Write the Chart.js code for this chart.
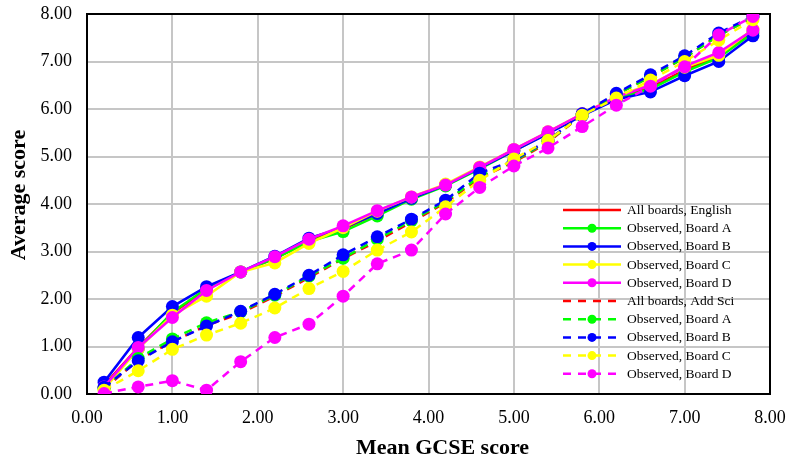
<!DOCTYPE html>
<html>
<head>
<meta charset="utf-8">
<script src="https://cdn.jsdelivr.net/npm/chart.js@4.4.1/dist/chart.umd.min.js"></script>
<style>
  html, body { margin: 0; padding: 0; background: #fff; }
  #wrap { width: 787px; height: 461px; }
</style>
</head>
<body>
<div id="wrap"><canvas id="gcseChart"></canvas></div>
<script>
// Mean GCSE score bands (x values)
const gcseScores = [0.2, 0.6, 1.0, 1.4, 1.8, 2.2, 2.6, 3.0, 3.4, 3.8, 4.2, 4.6, 5.0, 5.4, 5.8, 6.2, 6.6, 7.0, 7.4, 7.8];

// English (solid lines)
const engAll = [0.18, 0.98, 1.70, 2.20, 2.57, 2.85, 3.22, 3.47, 3.80, 4.12, 4.40, 4.76, 5.13, 5.50, 5.88, 6.24, 6.45, 6.82, 7.12, 7.63];
const engA   = [0.15, 0.95, 1.72, 2.22, 2.57, 2.85, 3.21, 3.42, 3.75, 4.10, 4.38, 4.74, 5.12, 5.49, 5.87, 6.22, 6.42, 6.78, 7.08, 7.60];
const engB   = [0.25, 1.19, 1.84, 2.26, 2.57, 2.90, 3.28, 3.50, 3.80, 4.12, 4.40, 4.76, 5.12, 5.48, 5.86, 6.20, 6.36, 6.70, 7.00, 7.54];
const engC   = [0.10, 0.95, 1.66, 2.06, 2.57, 2.76, 3.17, 3.50, 3.85, 4.15, 4.42, 4.78, 5.15, 5.52, 5.90, 6.26, 6.52, 6.88, 7.13, 7.68];
const engD   = [0.15, 0.98, 1.61, 2.18, 2.57, 2.89, 3.26, 3.54, 3.86, 4.15, 4.40, 4.77, 5.15, 5.52, 5.90, 6.25, 6.50, 6.90, 7.19, 7.66];

// Additional Science (dashed lines)
const sciAll = [0.10, 0.72, 1.10, 1.44, 1.70, 2.06, 2.45, 2.85, 3.22, 3.62, 4.03, 4.55, 4.88, 5.30, 5.88, 6.30, 6.68, 7.08, 7.55, 7.93];
const sciA   = [0.12, 0.75, 1.16, 1.50, 1.73, 2.08, 2.48, 2.86, 3.26, 3.65, 4.05, 4.58, 4.90, 5.32, 5.88, 6.30, 6.68, 7.08, 7.55, 7.93];
const sciB   = [0.14, 0.70, 1.10, 1.43, 1.74, 2.10, 2.50, 2.93, 3.31, 3.68, 4.08, 4.65, 4.92, 5.34, 5.90, 6.33, 6.72, 7.12, 7.60, 7.95];
const sciC   = [0.08, 0.49, 0.94, 1.24, 1.49, 1.81, 2.22, 2.58, 3.03, 3.41, 3.94, 4.50, 4.95, 5.34, 5.87, 6.23, 6.61, 7.00, 7.45, 7.88];
const sciD   = [0.01, 0.15, 0.28, 0.08, 0.68, 1.19, 1.47, 2.06, 2.74, 3.03, 3.79, 4.35, 4.80, 5.18, 5.63, 6.08, 6.48, 6.89, 7.56, 7.95];

const axisTicks = [0, 1, 2, 3, 4, 5, 6, 7, 8];
const xTitle = 'Mean GCSE score';
const yTitle = 'Average score';

const RED = '#ff0000', GREEN = '#00ff00', BLUE = '#0000ff', YELLOW = '#ffff00', MAGENTA = '#ff00ff';
const FONT = '"Liberation Serif", "Times New Roman", serif';

function toPoints(values) {
    return gcseScores.map((x, i) => ({ x: x, y: values[i] }));
}

function series(label, values, color, dashed, markers) {
    return {
        label: label,
        data: toPoints(values),
        borderColor: color,
        backgroundColor: color,
        borderWidth: 2.5,
        borderDash: dashed ? [8, 6] : [],
        pointRadius: markers ? 6.5 : 0,
        pointHoverRadius: markers ? 6.5 : 0,
        pointBorderWidth: 0,
        pointBackgroundColor: color,
        tension: 0,
        fill: false
    };
}

const datasets = [
    series('All boards, English', engAll, RED, false, false),
    series('Observed, Board A', engA, GREEN, false, true),
    series('Observed, Board B', engB, BLUE, false, true),
    series('Observed, Board C', engC, YELLOW, false, true),
    series('Observed, Board D', engD, MAGENTA, false, true),
    series('All boards, Add Sci', sciAll, RED, true, false),
    series('Observed, Board A', sciA, GREEN, true, true),
    series('Observed, Board B', sciB, BLUE, true, true),
    series('Observed, Board C', sciC, YELLOW, true, true),
    series('Observed, Board D', sciD, MAGENTA, true, true)
];
// later series drawn on top, like the spreadsheet original
datasets.forEach((ds, i) => { ds.order = datasets.length - i; });

// no extra room for overhanging tick labels
function noPadding(scale) {
    scale.paddingLeft = 0;
    scale.paddingRight = 0;
    scale.paddingTop = 0;
    scale.paddingBottom = 0;
}

// black frame round the plot area
const framePlugin = {
    id: 'plotFrame',
    beforeDatasetsDraw(chart) {
        const { ctx, chartArea } = chart;
        ctx.save();
        ctx.strokeStyle = '#000';
        ctx.lineWidth = 2;
        ctx.strokeRect(chartArea.left, chartArea.top, chartArea.right - chartArea.left, chartArea.bottom - chartArea.top);
        ctx.restore();
    }
};

// axis titles, slightly off-centre as in the original
const axisTitles = {
    id: 'axisTitles',
    afterDraw(chart) {
        const { ctx, chartArea } = chart;
        const midX = (chartArea.left + chartArea.right) / 2;
        const midY = (chartArea.top + chartArea.bottom) / 2;
        ctx.save();
        ctx.font = 'bold 22px ' + FONT;
        ctx.fillStyle = '#000';
        ctx.textAlign = 'center';
        ctx.textBaseline = 'middle';
        ctx.fillText(xTitle, midX + 14, chart.height - 13);
        ctx.translate(19, midY - 9);
        ctx.rotate(-Math.PI / 2);
        ctx.fillText(yTitle, 0, 0);
        ctx.restore();
    }
};

// legend sits inside the plot, bottom right, no box
const insideLegend = {
    id: 'insideLegend',
    afterDraw(chart) {
        const { ctx, chartArea } = chart;
        const x0 = chartArea.right - 207;
        const lineLen = 58;
        const y0 = chartArea.bottom - 184;
        const rowH = 18.2;
        ctx.save();
        ctx.font = '13.5px ' + FONT;
        ctx.textBaseline = 'middle';
        ctx.textAlign = 'left';
        chart.data.datasets.forEach((ds, i) => {
            const y = y0 + i * rowH;
            ctx.strokeStyle = ds.borderColor;
            ctx.lineWidth = 2.5;
            ctx.setLineDash(ds.borderDash.length ? [8, 7] : []);
            ctx.beginPath();
            ctx.moveTo(x0, y);
            ctx.lineTo(x0 + lineLen, y);
            ctx.stroke();
            ctx.setLineDash([]);
            if (ds.pointRadius > 0) {
                ctx.fillStyle = ds.borderColor;
                ctx.beginPath();
                ctx.arc(x0 + lineLen / 2, y, 4.5, 0, Math.PI * 2);
                ctx.fill();
            }
            ctx.fillStyle = '#000';
            ctx.fillText(ds.label, x0 + lineLen + 6, y + 0.5);
        });
        ctx.restore();
    }
};

const ctx = document.getElementById('gcseChart').getContext('2d');
new Chart(ctx, {
    type: 'line',
    data: { datasets: datasets },
    plugins: [framePlugin, axisTitles, insideLegend],
    options: {
        responsive: true,
        maintainAspectRatio: false,
        animation: false,
        layout: { padding: { top: 14, right: 17, left: 0, bottom: 0 } },
        plugins: {
            legend: { display: false },
            tooltip: { enabled: false }
        },
        scales: {
            x: {
                type: 'linear',
                min: axisTicks[0],
                max: axisTicks[axisTicks.length - 1],
                afterFit: (scale) => { scale.height = 67; noPadding(scale); },
                afterBuildTicks: (scale) => { scale.ticks = axisTicks.map(v => ({ value: v })); },
                grid: { color: '#c6c6c6', lineWidth: 2, drawTicks: false },
                border: { color: '#000', width: 2 },
                ticks: {
                    color: '#000',
                    padding: 13,
                    font: { family: FONT, size: 18 },
                    callback: (v) => Number(v).toFixed(2)
                }
            },
            y: {
                min: axisTicks[0],
                max: axisTicks[axisTicks.length - 1],
                afterFit: (scale) => { scale.width = 87; noPadding(scale); },
                afterBuildTicks: (scale) => { scale.ticks = axisTicks.map(v => ({ value: v })); },
                grid: { color: '#c6c6c6', lineWidth: 2, drawTicks: false },
                border: { color: '#000', width: 2 },
                ticks: {
                    color: '#000',
                    padding: 15,
                    font: { family: FONT, size: 18 },
                    callback: (v) => Number(v).toFixed(2)
                }
            }
        }
    }
});
</script>
</body>
</html>
